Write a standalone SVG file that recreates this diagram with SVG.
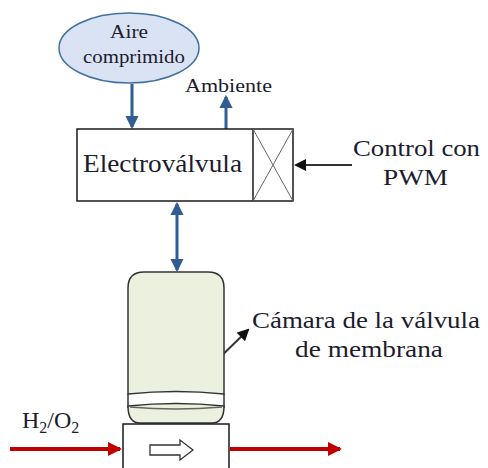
<svg xmlns="http://www.w3.org/2000/svg" width="488" height="468" viewBox="0 0 488 468">
  <style>
    text { fill: #1c1c2e; font-family: "Liberation Serif", "Times New Roman", serif; }
    .box { fill: #ffffff; stroke: #1a1a1a; stroke-width: 1.5; }
    .blue { stroke: #2f5d94; stroke-width: 3; fill: none; }
    .red { stroke: #c00000; stroke-width: 4; fill: none; }
    .blk { stroke: #333333; stroke-width: 2; fill: none; }
  </style>
  <defs>
    <marker id="ahBlue" markerWidth="4.5" markerHeight="4.5" refX="3.8" refY="2.25" orient="auto-start-reverse" markerUnits="strokeWidth">
      <path d="M0,0 L4.5,2.25 L0,4.5 z" fill="#2f5d94"/>
    </marker>
    <marker id="ahRed" markerWidth="3.5" markerHeight="3.5" refX="3" refY="1.75" orient="auto" markerUnits="strokeWidth">
      <path d="M0,0 L3.5,1.75 L0,3.5 z" fill="#c00000"/>
    </marker>
    <marker id="ahBlk" markerWidth="6" markerHeight="6" refX="5" refY="3" orient="auto" markerUnits="strokeWidth">
      <path d="M0,0 L6,3 L0,6 z" fill="#111111"/>
    </marker>
  </defs>

  <!-- connectors -->
  <g id="connectors">
    <line class="blue" x1="132" y1="84" x2="132" y2="127" marker-end="url(#ahBlue)"/>
    <line class="blue" x1="226" y1="129" x2="226" y2="97" marker-end="url(#ahBlue)"/>
    <line class="blue" x1="177" y1="204" x2="177" y2="270" marker-start="url(#ahBlue)" marker-end="url(#ahBlue)"/>
    <line class="blk" x1="352" y1="165" x2="296" y2="165" marker-end="url(#ahBlk)"/>
    <line class="blk" x1="210" y1="367" x2="248" y2="330" marker-end="url(#ahBlk)"/>
    <line class="red" x1="10" y1="449" x2="120" y2="449" marker-end="url(#ahRed)"/>
    <line class="red" x1="230" y1="449" x2="340" y2="449" marker-end="url(#ahRed)"/>
  </g>

  <!-- compressed air source -->
  <g id="aire">
    <ellipse cx="129" cy="48" rx="70" ry="35" fill="#dae3f3" stroke="#41719c" stroke-width="1.5"/>
    <text x="110" y="38" font-size="18" textLength="38" lengthAdjust="spacingAndGlyphs">Aire</text>
    <text x="83" y="63" font-size="18" textLength="102" lengthAdjust="spacingAndGlyphs">comprimido</text>
  </g>

  <g id="ambiente">
    <text x="185" y="92" font-size="18" textLength="87" lengthAdjust="spacingAndGlyphs">Ambiente</text>
  </g>

  <!-- solenoid valve -->
  <g id="electrovalvula">
    <rect class="box" x="77" y="129" width="216" height="72"/>
    <line x1="253" y1="129" x2="253" y2="201" stroke="#1a1a1a" stroke-width="1.5"/>
    <line x1="253" y1="129" x2="293" y2="201" stroke="#666666" stroke-width="1"/>
    <line x1="293" y1="129" x2="253" y2="201" stroke="#666666" stroke-width="1"/>
    <text x="83" y="172" font-size="26" textLength="159" lengthAdjust="spacingAndGlyphs">Electroválvula</text>
  </g>

  <g id="control">
    <text x="353" y="156" font-size="24" textLength="127" lengthAdjust="spacingAndGlyphs">Control con</text>
    <text x="383" y="185" font-size="24" textLength="65" lengthAdjust="spacingAndGlyphs">PWM</text>
  </g>

  <!-- membrane valve chamber -->
  <g id="camara">
    <path d="M128,394 L128,288 Q128,272 144,272 L208,272 Q224,272 224,288 L224,394 Q176,389 128,394 z" fill="#ebf1de" stroke="#333333" stroke-width="1.5"/>
    <path d="M128,394 L128,408 M224,394 L224,408" stroke="#333333" stroke-width="1.5"/>
    <path d="M128,406 Q128,423 140,423 L212,423 Q224,423 224,406 Q176,401 128,406 z" fill="#ebf1de" stroke="#333333" stroke-width="1.5"/>
    <path d="M130,407 Q176,411 222,407" fill="none" stroke="#666666" stroke-width="1.5"/>
  </g>

  <g id="camara-label">
    <text x="252" y="328" font-size="24" textLength="228" lengthAdjust="spacingAndGlyphs">Cámara de la válvula</text>
    <text x="295" y="357" font-size="24" textLength="148" lengthAdjust="spacingAndGlyphs">de membrana</text>
  </g>

  <!-- valve body with flow arrow -->
  <g id="cuerpo">
    <rect class="box" x="123" y="424" width="106" height="50"/>
    <path d="M150,445 L180,445 L180,440 L193,450 L180,460 L180,455 L150,455 z" fill="#ffffff" stroke="#333333" stroke-width="1.3"/>
  </g>

  <g id="gas">
    <text x="22" y="428" font-size="24">H<tspan font-size="16" dy="5">2</tspan><tspan dy="-5">/O</tspan><tspan font-size="16" dy="5">2</tspan></text>
  </g>
</svg>
